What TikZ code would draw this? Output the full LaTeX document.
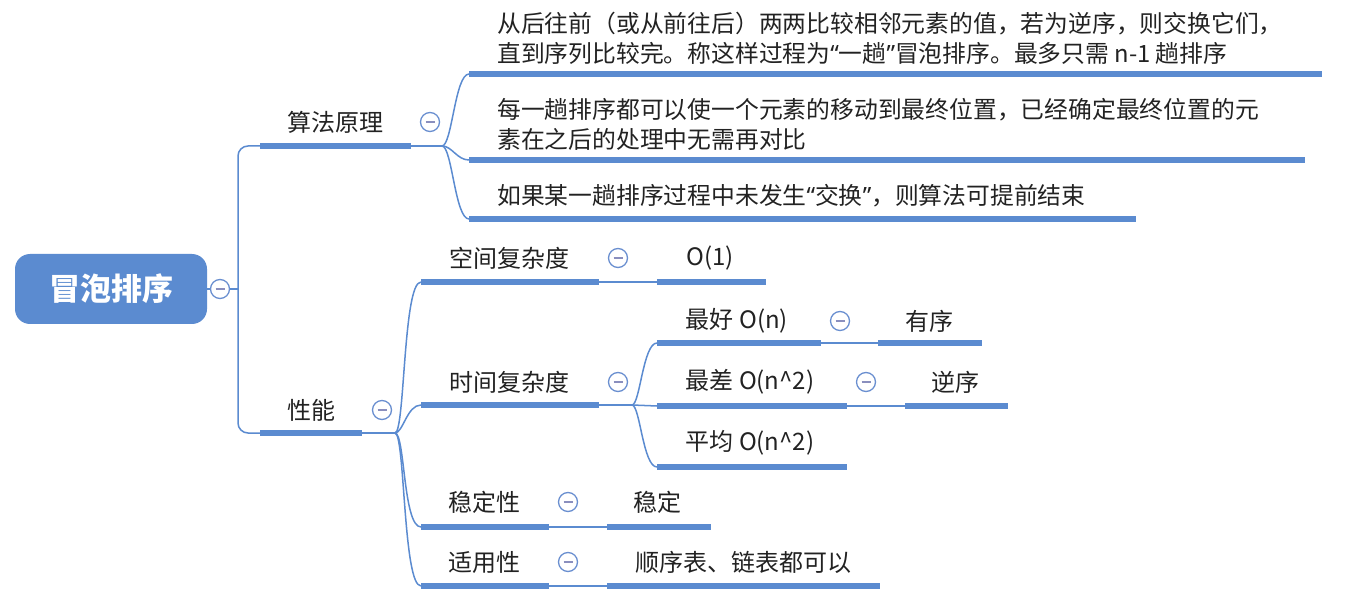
\documentclass[tikz,border=0pt]{standalone}
\usepackage{fontspec}
\setmainfont{Noto Sans CJK SC}
\newfontfamily\qfont{Noto Sans}
\definecolor{lb}{HTML}{5B8BD0}
\definecolor{fc}{HTML}{6A8FD0}
\definecolor{fm}{HTML}{8A8FBE}
\definecolor{tx}{HTML}{222222}
\newcommand{\myLq}{{\qfont “}}
\newcommand{\myRq}{{\qfont ”}}
\tikzset{
 uline/.style={draw=lb, line width=5.5pt},
 conn/.style={draw=lb, line width=1.5pt},
 lbl/.style={inner sep=0pt, text=tx, font=\fontsize{24}{28}\selectfont},
 desc/.style={inner sep=0pt, text=tx, anchor=west, align=left, font=\fontsize{23.8}{30}\selectfont},
 fold/.style={circle, draw=fc, line width=1.3pt, fill=white, minimum size=19pt, inner sep=0pt,
   path picture={\draw[draw=fm, line width=1.4pt] ([xshift=-4.5pt]path picture bounding box.center) -- ([xshift=4.5pt]path picture bounding box.center);}},
 rootbox/.style={rectangle, rounded corners=15pt, fill=lb, text=white, minimum width=192pt, minimum height=70pt, inner sep=0pt, font=\fontsize{31}{36}\selectfont\bfseries},
}
\begin{document}
\begin{tikzpicture}[x=1pt,y=-1pt]
\useasboundingbox (0,0) rectangle (1354,609);
% root
\node[rootbox] (root) at (111,289) {冒泡排序};
\coordinate (rj) at (238,289);
% level-1 underlines
\coordinate (aL) at (260,146); \coordinate (aR) at (411,146); \coordinate (aJ) at (442,146);
\coordinate (pL) at (260,433); \coordinate (pR) at (362,433); \coordinate (pJ) at (395,433);
\draw[conn] (root.east) -- (rj);
\draw[conn, rounded corners=10pt] (rj) |- (aL);
\draw[conn, rounded corners=10pt] (rj) |- (pL);
\node[fold] (rootf) at (220,289) {};
\draw[uline] (aL) -- (aR);
\draw[uline] (pL) -- (pR);
\node[lbl] (a) at (335,122) {算法原理};
\node[lbl] (p) at (311,410) {性能};
\draw[conn] (aR) -- (aJ);
\draw[conn] (pR) -- (pJ);
\node[fold] (af) at (430,122) {};
\node[fold] (pf) at (382,410) {};
% descriptions
\coordinate (d1L) at (469,74);  \coordinate (d1R) at (1322,74);
\coordinate (d2L) at (469,160); \coordinate (d2R) at (1305,160);
\coordinate (d3L) at (469,219); \coordinate (d3R) at (1136,219);
\draw[conn] (aJ) .. controls +(10,0) and +(-14,0) .. (d1L);
\draw[conn] (aJ) .. controls +(10,0) and +(-12,0) .. (d2L);
\draw[conn] (aJ) .. controls +(10,0) and +(-14,0) .. (d3L);
\draw[uline] (d1L) -- (d1R);
\draw[uline] (d2L) -- (d2R);
\draw[uline] (d3L) -- (d3R);
\node[desc] (d1) at (497,38) {从后往前（或从前往后）两两比较相邻元素的值，若为逆序，则交换它们，\\直到序列比较完。称这样过程为\myLq 一趟\myRq 冒泡排序。最多只需 n-1 趟排序};
\node[desc] (d2) at (497,124) {每一趟排序都可以使一个元素的移动到最终位置，已经确定最终位置的元\\素在之后的处理中无需再对比};
\node[desc] (d3) at (497,196) {如果某一趟排序过程中未发生\myLq 交换\myRq ，则算法可提前结束};
% performance children
\coordinate (sL) at (421,282); \coordinate (sR) at (599,282);
\coordinate (tL) at (421,405); \coordinate (tR) at (599,405); \coordinate (tJ) at (632,405);
\coordinate (wL) at (421,527); \coordinate (wR) at (549,527);
\coordinate (uL) at (421,586); \coordinate (uR) at (549,586);
\draw[conn] (pJ) .. controls +(10,0) and +(-18,0) .. (sL);
\draw[conn] (pJ) .. controls +(8,0) and +(-14,0) .. (tL);
\draw[conn] (pJ) .. controls +(10,0) and +(-18,0) .. (wL);
\draw[conn] (pJ) .. controls +(10,0) and +(-18,0) .. (uL);
\draw[uline] (sL) -- (sR);
\draw[uline] (tL) -- (tR);
\draw[uline] (wL) -- (wR);
\draw[uline] (uL) -- (uR);
\node[lbl] (s) at (509,258) {空间复杂度};
\node[lbl] (t) at (509,382) {时间复杂度};
\node[lbl] (w) at (484,502) {稳定性};
\node[lbl] (u) at (484,562) {适用性};
\node[fold] (sf) at (618,258) {};
\node[fold] (tf) at (618,382) {};
\node[fold] (wf) at (568,502) {};
\node[fold] (uf) at (568,562) {};
% space
\coordinate (s1L) at (657,282); \coordinate (s1R) at (766,282);
\draw[conn] (sR) -- (s1L);
\draw[uline] (s1L) -- (s1R);
\node[lbl] (s1) at (710,258) {O(1)};
% stable
\coordinate (w1L) at (607,527); \coordinate (w1R) at (711,527);
\draw[conn] (wR) -- (w1L);
\draw[uline] (w1L) -- (w1R);
\node[lbl] (w1) at (657,502) {稳定};
% applicability
\coordinate (u1L) at (607,586); \coordinate (u1R) at (880,586);
\draw[conn] (uR) -- (u1L);
\draw[uline] (u1L) -- (u1R);
\node[lbl] (u1) at (743,562) {顺序表、链表都可以};
% time
\coordinate (bL) at (657,343); \coordinate (bR) at (821,343);
\coordinate (xL) at (657,406); \coordinate (xR) at (847,406);
\coordinate (vL) at (657,467); \coordinate (vR) at (847,467);
\draw[conn] (tR) -- (tJ);
\draw[conn] (tJ) .. controls +(8,0) and +(-14,0) .. (bL);
\draw[conn] (tJ) -- (xL);
\draw[conn] (tJ) .. controls +(8,0) and +(-14,0) .. (vL);
\draw[uline] (bL) -- (bR);
\draw[uline] (xL) -- (xR);
\draw[uline] (vL) -- (vR);
\node[lbl] (b) at (737,321) {最好 O(n)};
\node[lbl] (x) at (750,382) {最差 O(n\^{}2)};
\node[lbl] (v) at (750,443) {平均 O(n\^{}2)};
\node[fold] (bf) at (840,321) {};
\node[fold] (xf) at (866,382) {};
\coordinate (b1L) at (878,343); \coordinate (b1R) at (982,343);
\coordinate (x1L) at (905,406); \coordinate (x1R) at (1008,406);
\draw[conn] (bR) -- (b1L);
\draw[conn] (xR) -- (x1L);
\draw[uline] (b1L) -- (b1R);
\draw[uline] (x1L) -- (x1R);
\node[lbl] (b1) at (929,321) {有序};
\node[lbl] (x1) at (955,382) {逆序};
\end{tikzpicture}
\end{document}
